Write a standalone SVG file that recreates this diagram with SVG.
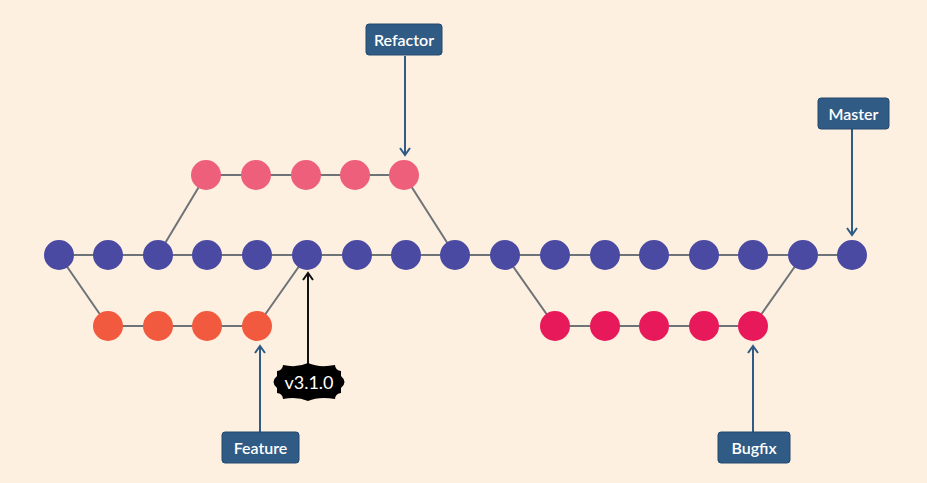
<svg xmlns="http://www.w3.org/2000/svg" width="927" height="483" viewBox="0 0 927 483">
<defs>
<style>
.ln{stroke:#6e7378;stroke-width:2;fill:none}
.m{fill:#4a4aa2}
.r{fill:#ee5f7b}
.f{fill:#f15a3e}
.b{fill:#e8195a}
.lbl{fill:#2f5b85;stroke:#24486d;stroke-width:1}
.t{font-family:"Lato","Liberation Sans",sans-serif;font-size:16px;fill:#fff;text-anchor:middle;font-weight:600}
.ar{stroke:#2f5b85;stroke-width:2;fill:none}
</style>
<marker id="ah" viewBox="0 0 12 12" refX="10" refY="6" markerWidth="12" markerHeight="12" markerUnits="userSpaceOnUse" orient="auto"><path d="M3,1 L10,6 L3,11" fill="none" stroke="#2f5b85" stroke-width="2"/></marker>
<marker id="ahk" viewBox="0 0 12 12" refX="10" refY="6" markerWidth="12" markerHeight="12" markerUnits="userSpaceOnUse" orient="auto"><path d="M3,1 L10,6 L3,11" fill="none" stroke="#111" stroke-width="2"/></marker>
</defs>
<rect width="927" height="483" fill="#fef0e0"/>
<g id="connectors">
<path class="ln" d="M59,255 H852"/>
<path class="ln" d="M158,255 L206,175 H404 L455,255"/>
<path class="ln" d="M59,255 L108,326 H257 L307,255"/>
<path class="ln" d="M505,255 L555,326 H753 L803,255"/>
<path class="ar" d="M405,56 V155" marker-end="url(#ah)"/>
<path class="ar" d="M852,129 V235" marker-end="url(#ah)"/>
<path class="ar" d="M260,432 V346" marker-end="url(#ah)"/>
<path class="ar" d="M753,432 V346" marker-end="url(#ah)"/>
<path d="M308,365 V273" stroke="#111" stroke-width="2" fill="none" marker-end="url(#ahk)"/>
</g>
<g id="master-commits">
<circle class="m" cx="59" cy="255" r="15"/>
<circle class="m" cx="108" cy="255" r="15"/>
<circle class="m" cx="158" cy="255" r="15"/>
<circle class="m" cx="207" cy="255" r="15"/>
<circle class="m" cx="257" cy="255" r="15"/>
<circle class="m" cx="307" cy="255" r="15"/>
<circle class="m" cx="357" cy="255" r="15"/>
<circle class="m" cx="406" cy="255" r="15"/>
<circle class="m" cx="455" cy="255" r="15"/>
<circle class="m" cx="505" cy="255" r="15"/>
<circle class="m" cx="555" cy="255" r="15"/>
<circle class="m" cx="605" cy="255" r="15"/>
<circle class="m" cx="654" cy="255" r="15"/>
<circle class="m" cx="704" cy="255" r="15"/>
<circle class="m" cx="753" cy="255" r="15"/>
<circle class="m" cx="803" cy="255" r="15"/>
<circle class="m" cx="852" cy="255" r="15"/>
</g>
<g id="refactor-commits">
<circle class="r" cx="206" cy="175" r="15"/>
<circle class="r" cx="256" cy="175" r="15"/>
<circle class="r" cx="306" cy="175" r="15"/>
<circle class="r" cx="355" cy="175" r="15"/>
<circle class="r" cx="404" cy="175" r="15"/>
</g>
<g id="feature-commits">
<circle class="f" cx="108" cy="326" r="15"/>
<circle class="f" cx="158" cy="326" r="15"/>
<circle class="f" cx="207" cy="326" r="15"/>
<circle class="f" cx="257" cy="326" r="15"/>
</g>
<g id="bugfix-commits">
<circle class="b" cx="555" cy="326" r="15"/>
<circle class="b" cx="605" cy="326" r="15"/>
<circle class="b" cx="654" cy="326" r="15"/>
<circle class="b" cx="704" cy="326" r="15"/>
<circle class="b" cx="753" cy="326" r="15"/>
</g>
<g id="label-refactor">
<rect class="lbl" x="366" y="24" width="76" height="31" rx="3"/>
<text class="t" x="404" y="45.5">Refactor</text>
</g>
<g id="label-master">
<rect class="lbl" x="818" y="98" width="71" height="31" rx="3"/>
<text class="t" x="853.5" y="119.5">Master</text>
</g>
<g id="label-feature">
<rect class="lbl" x="222" y="432" width="77" height="31" rx="3"/>
<text class="t" x="260.5" y="453.5">Feature</text>
</g>
<g id="label-bugfix">
<rect class="lbl" x="718" y="432" width="72" height="31" rx="3"/>
<text class="t" x="754" y="453.5">Bugfix</text>
</g>
<g id="tag-v310">
<path fill="#000" d="M283,365 Q297,368 308,363 Q319,368 335,365 A6 6 0 0 0 341,371 V376 Q348,382 341,388 V393 A6 6 0 0 0 335,399 Q319,396 308,401 Q297,396 283,399 A6 6 0 0 0 277,393 V388 Q270,382 277,376 V371 A6 6 0 0 0 283,365 Z"/>
<text x="309" y="388.5" font-family="Lato,'Liberation Sans',sans-serif" font-size="18" fill="#fff" text-anchor="middle">v3.1.0</text>
</g>
</svg>
